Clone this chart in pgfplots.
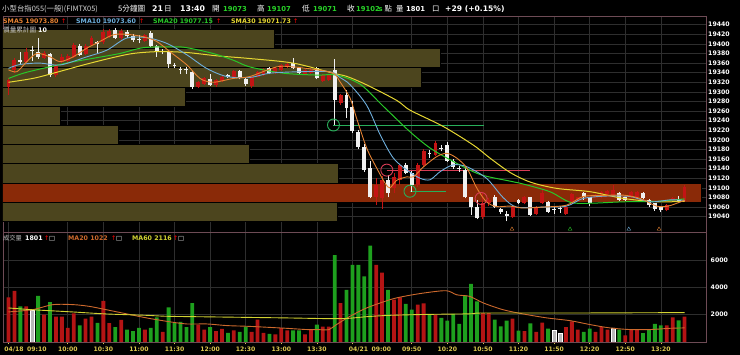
\documentclass[border=0pt]{standalone}
\usepackage{pgfplots}
\pgfplotsset{compat=1.18}
\usepackage{pgfplotstable}
\usepackage{fontspec}
\setmainfont{DejaVu Sans}
\newfontfamily\cjk{Noto Sans CJK TC}
\definecolor{olv}{RGB}{76,69,30}
\definecolor{ora}{RGB}{138,42,8}
\definecolor{cred}{RGB}{195,20,20}
\definecolor{cwht}{RGB}{240,240,240}
\definecolor{vred}{RGB}{180,20,20}
\definecolor{vgrn}{RGB}{30,160,30}
\definecolor{vgry}{RGB}{185,185,185}
\definecolor{s5}{RGB}{230,130,50}
\definecolor{s10}{RGB}{110,175,220}
\definecolor{s20}{RGB}{40,200,40}
\definecolor{s30}{RGB}{230,215,50}
\definecolor{grd}{RGB}{46,46,46}
\definecolor{frm}{RGB}{110,75,85}
\definecolor{hgrn}{RGB}{40,210,40}
\definecolor{xlab}{RGB}{220,200,80}
\definecolor{ma20}{RGB}{205,105,45}
\definecolor{ma60}{RGB}{210,210,50}
\definecolor{cgrn}{RGB}{40,175,90}
\definecolor{cpnk}{RGB}{215,60,85}

\pgfplotstableread{
i o h l c
0 19310 19328 19293 19325
1 19345 19370 19340 19366
3 19362 19392 19358 19383
6 19371 19386 19369 19381
8 19336 19358 19330 19356
9 19363 19378 19360 19373
10 19364 19378 19360 19374
11 19373 19402 19370 19398
13 19379 19400 19376 19396
14 19398 19417 19395 19413
16 19403 19430 19400 19424
17 19415 19432 19412 19427
19 19412 19431 19408 19427
23 19406 19421 19404 19418
32 19311 19323 19308 19321
33 19316 19330 19314 19328
35 19314 19327 19311 19325
36 19322 19334 19320 19332
38 19330 19345 19328 19343
41 19312 19333 19309 19330
42 19332 19344 19330 19342
43 19336 19350 19334 19348
45 19340 19352 19338 19350
46 19346 19359 19344 19357
47 19352 19360 19350 19358
50 19338 19347 19336 19345
51 19340 19348 19338 19346
53 19322 19337 19320 19335
54 19325 19338 19323 19335
56 19276 19296 19272 19293
62 19082 19120 19064 19106
63 19078 19124 19056 19116
65 19099 19130 19090 19123
66 19116 19150 19105 19147
69 19106 19152 19102 19147
70 19147 19180 19144 19176
72 19169 19197 19166 19193
80 19040 19090 19036 19068
81 19068 19078 19062 19074
85 19039 19064 19037 19062
87 19068 19084 19066 19082
89 19046 19062 19044 19060
90 19069 19096 19066 19090
94 19046 19062 19044 19060
95 19071 19090 19069 19087
96 19075 19082 19073 19080
99 19080 19088 19078 19086
100 19080 19094 19078 19092
101 19087 19096 19085 19094
102 19085 19106 19083 19096
105 19080 19094 19078 19092
106 19080 19094 19078 19092
111 19053 19066 19051 19064
112 19072 19081 19070 19079
114 19073 19107 19071 19102
}\upc

\pgfplotstableread{
i o h l c
2 19366 19384 19358 19362
4 19388 19396 19364 19386
5 19384 19412 19368 19372
7 19378 19380 19332 19335
12 19396 19400 19374 19377
15 19404 19405 19380 19399
18 19429 19433 19410 19413
20 19424 19428 19412 19417
21 19416 19420 19404 19408
22 19411 19418 19401 19409
24 19422 19426 19394 19396
25 19396 19398 19373 19384
26 19386 19390 19378 19384
27 19384 19386 19350 19358
28 19356 19360 19349 19354
29 19348 19352 19337 19346
30 19347 19351 19338 19345
31 19341 19343 19306 19310
34 19327 19337 19312 19315
37 19335 19337 19328 19330
39 19343 19346 19326 19329
40 19327 19330 19312 19317
44 19350 19352 19337 19339
48 19360 19370 19348 19350
49 19350 19352 19338 19340
52 19349 19352 19326 19328
55 19346 19368 19231 19283
57 19293 19304 19245 19267
58 19269 19280 19215 19219
59 19217 19220 19180 19186
60 19186 19192 19133 19137
61 19141 19156 19078 19080
64 19116 19127 19080 19089
67 19147 19152 19128 19132
68 19130 19136 19092 19106
71 19172 19178 19163 19170
73 19184 19190 19176 19182
74 19190 19195 19154 19156
75 19156 19160 19140 19144
76 19142 19145 19133 19139
77 19137 19144 19078 19080
78 19080 19082 19044 19061
79 19061 19075 19035 19037
82 19082 19086 19058 19060
83 19057 19058 19046 19050
84 19045 19052 19030 19042
86 19075 19077 19066 19069
88 19080 19082 19042 19044
91 19071 19073 19048 19050
92 19056 19060 19046 19054
93 19058 19062 19048 19056
97 19089 19092 19075 19080
98 19080 19082 19062 19069
103 19090 19092 19073 19075
104 19080 19082 19073 19075
107 19090 19092 19076 19078
108 19075 19077 19060 19064
109 19068 19069 19052 19055
110 19060 19062 19049 19053
113 19076 19083 19071 19073
}\dnc

\pgfplotstableread{
i v
0 3260
1 3745
3 2600
6 2000
8 1850
9 1850
10 1030
11 2100
13 1700
14 1850
16 3000
17 1380
19 1610
23 910
26 740
32 1270
33 910
35 790
36 960
38 850
41 740
42 1640
43 670
45 550
46 1010
47 850
50 550
51 910
53 1130
54 1130
56 2850
62 5640
63 5080
65 3090
66 3260
69 2730
70 2820
72 2000
80 2120
81 2120
85 1710
87 790
89 740
90 1420
94 1080
95 1510
96 910
99 740
100 1080
101 910
104 490
105 910
106 910
111 1220
112 1800
114 1850
}\vr

\pgfplotstableread{
i v
2 2600
5 3380
7 2920
12 1220
15 1400
18 1080
20 910
21 790
22 1030
24 1030
25 1800
27 2530
28 1400
29 1470
30 1080
31 2850
34 1080
37 670
39 740
40 1130
44 600
48 850
49 850
52 1270
55 6360
57 3820
58 5640
59 5640
60 4790
61 7040
64 3820
67 2780
68 2360
71 2000
73 1760
74 1560
75 2050
76 1320
77 3400
78 4250
79 2970
82 1640
83 1150
84 1560
86 840
88 1370
91 980
97 740
98 980
103 910
107 640
108 910
109 1320
110 1220
113 1590
}\vg

\pgfplotstableread{
i v
4 2290
92 840
93 640
102 1030
}\vq

\pgfplotsset{
  wick/.style={draw=none, mark=none, error bars/.cd, y dir=plus, y explicit, error mark=none,
    error bar style={line width=0.9pt, draw=#1}},
  body/.style={draw=none, mark=none, error bars/.cd, y dir=plus, y explicit, error mark=none,
    error bar style={line width=3.9pt, draw=#1}},
  band/.style={fill=#1, draw=black, line width=0.8pt},
}

\begin{document}
\begin{tikzpicture}[x=1pt,y=1pt]
\path[use as bounding box, fill=black] (0,0) rectangle (740,355);

% ---------- price panel ----------
\begin{axis}[
  at={(3pt,123pt)}, anchor=south west, width=703pt, height=216pt, scale only axis,
  xmin=-0.927, xmax=117.62, ymin=19008.1, ymax=19458.1,
  axis line style={draw=frm, line width=0.8pt},
  xtick={0,10,16,22,28,34,40,46,52,58,68,74,80,86,92,98,104,110}, xticklabels={},
  ytick={19040,19060,19080,19100,19120,19140,19160,19180,19200,19220,19240,19260,19280,19300,19320,19340,19360,19380,19400,19420,19440},
  yticklabel pos=right,
  scaled y ticks=false,
  yticklabel={\pgfmathprintnumber[fixed,precision=0,1000 sep={},assume math mode=true]{\tick}},
  grid=major, grid style={draw=grd, line width=0.6pt},
  major tick length=0pt,
  yticklabel style={font=\bfseries\fontsize{6.2}{7}\selectfont, text=white, anchor=west, inner sep=0pt, xshift=2pt},
]
% volume-at-price bands
\addplot[band=olv] coordinates {(-2,19390) (44.9,19390) (44.9,19430) (-2,19430)} -- cycle;
\addplot[band=olv] coordinates {(-2,19350) (72.9,19350) (72.9,19390) (-2,19390)} -- cycle;
\addplot[band=olv] coordinates {(-2,19310) (69.7,19310) (69.7,19350) (-2,19350)} -- cycle;
\addplot[band=olv] coordinates {(-2,19270) (29.9,19270) (29.9,19310) (-2,19310)} -- cycle;
\addplot[band=olv] coordinates {(-2,19230) (8.7,19230) (8.7,19270) (-2,19270)} -- cycle;
\addplot[band=olv] coordinates {(-2,19190) (18.6,19190) (18.6,19230) (-2,19230)} -- cycle;
\addplot[band=olv] coordinates {(-2,19150) (40.7,19150) (40.7,19190) (-2,19190)} -- cycle;
\addplot[band=olv] coordinates {(-2,19110) (55.7,19110) (55.7,19150) (-2,19150)} -- cycle;
\addplot[band=ora] coordinates {(-2,19070) (116.9,19070) (116.9,19110) (-2,19110)} -- cycle;
\addplot[band=olv] coordinates {(-2,19030) (55.4,19030) (55.4,19070) (-2,19070)} -- cycle;

% support / resistance lines
\addplot[cgrn, line width=0.9pt] coordinates {(54.8,19231) (80.2,19231)};
\addplot[cpnk, line width=0.9pt] coordinates {(63.8,19137) (87.9,19137)};
\addplot[cgrn, line width=0.9pt] coordinates {(67.7,19093) (73.8,19093)};

% candles
\addplot[wick=cred] table[x=i, y=l, y error plus expr=\thisrow{h}-\thisrow{l}] {\upc};
\addplot[body=cred] table[x=i, y=o, y error plus expr=\thisrow{c}-\thisrow{o}] {\upc};
\addplot[wick=cwht] table[x=i, y=l, y error plus expr=\thisrow{h}-\thisrow{l}] {\dnc};
\addplot[body=cwht] table[x=i, y=c, y error plus expr=\thisrow{o}-\thisrow{c}] {\dnc};

% moving averages
\addplot[s30, line width=1pt, smooth, tension=0.5] coordinates {(0,19320) (4.1,19328) (7,19337) (12.6,19356) (17.1,19370) (21,19380) (25.5,19384) (30.1,19382) (35.2,19375) (40.2,19370) (48,19360) (54.7,19339) (57.1,19332) (60.5,19314) (65.5,19282) (67.7,19262) (73.3,19228) (78.4,19189) (81.2,19162) (84.6,19132) (88,19112) (92.4,19099) (98.1,19092) (103.7,19078) (109.3,19071) (114,19072)};
\addplot[s20, line width=1pt, smooth, tension=0.5] coordinates {(0,19328) (3.1,19341) (9.8,19360) (14.3,19370) (18.8,19380) (22.7,19392) (27.8,19394) (30.1,19392) (34.5,19380) (37.9,19366) (40.7,19352) (46.3,19339) (52,19335) (55.3,19335) (59.3,19316) (63.2,19270) (67.7,19217) (71.1,19183) (75,19155) (79.5,19128) (84.6,19114) (86.8,19108) (91.3,19092) (94.7,19070) (98.1,19068) (103.7,19071) (109.3,19072) (114,19077)};
\addplot[s10, line width=0.9pt, smooth, tension=0.5] coordinates {(0,19349) (1.9,19357) (5.3,19360) (8.7,19356) (13.2,19373) (16.6,19387) (19.9,19412) (23.3,19413) (26.7,19401) (30.1,19377) (33.4,19349) (36.8,19332) (40.7,19330) (44.1,19339) (49.2,19342) (54.2,19342) (55.9,19330) (57.6,19315) (60.4,19272) (62.7,19210) (64.9,19162) (67.2,19137) (69.4,19120) (71.1,19117) (72.8,19134) (75,19148) (77.3,19144) (80.6,19120) (83.4,19080) (85.7,19060) (90.2,19060) (94.1,19062) (96.9,19078) (100.9,19083) (104.8,19082) (108.2,19071) (111.6,19075) (114,19074)};
\addplot[s5, line width=0.9pt, smooth, tension=0.5] coordinates {(0,19346) (1.4,19342) (3.1,19363) (4.8,19380) (7,19373) (8.7,19363) (10.9,19373) (13.2,19391) (15.4,19405) (17.7,19419) (19.9,19420) (22.7,19415) (25,19405) (27.2,19384) (30.1,19356) (32.3,19328) (34.5,19320) (37.9,19328) (40.7,19332) (45.2,19352) (48,19352) (52,19346) (54.8,19339) (55.9,19321) (57.6,19287) (58.7,19245) (60.4,19183) (62.1,19141) (63.5,19110) (64.3,19100) (65.5,19116) (67.2,19123) (68.3,19123) (70,19144) (72.2,19165) (73.9,19172) (75.6,19162) (77.3,19141) (79,19099) (80.6,19071) (82.3,19061) (84.6,19062) (86.8,19058) (90.1,19060) (94.1,19064) (96.9,19082) (100.2,19084) (103.6,19085) (106.5,19078) (109.3,19062) (111.2,19062) (112.7,19068) (114,19074)};

% circles
\addplot[only marks, mark=o, mark size=6pt, cgrn, line width=0.9pt] coordinates {(54.8,19231) (67.7,19093)};
\addplot[only marks, mark=o, mark size=6pt, cpnk, line width=0.9pt] coordinates {(63.8,19137) (79.7,19078)};
% small triangles
\addplot[only marks, mark=triangle, mark size=2.2pt, s5] coordinates {(84.9,19014) (109.7,19014)};
\addplot[only marks, mark=triangle, mark size=2.2pt, s20] coordinates {(94.7,19014)};
\addplot[only marks, mark=triangle, mark size=2.2pt, s10] coordinates {(104.6,19014)};
\end{axis}

% ---------- volume panel ----------
\begin{axis}[
  at={(3pt,13pt)}, anchor=south west, width=703pt, height=110pt, scale only axis,
  xmin=-0.927, xmax=117.62, ymin=0, ymax=8044,
  axis line style={draw=frm, line width=0.8pt},
  xtick={0,10,16,22,28,34,40,46,52,58,68,74,80,86,92,98,104,110},
  xticklabels={{\makebox[0pt][l]{\hspace*{-4pt}04/18\hspace{3.5pt}09:10}},10:00,10:30,11:00,11:30,12:00,12:30,13:00,13:30,{\makebox[0pt][l]{\hspace*{-3.5pt}04/21\hspace{3.5pt}09:00}},09:50,10:20,10:50,11:20,11:50,12:20,12:50,13:20},
  xtick pos=lower, ytick pos=right,
  ytick={2000,4000,6000}, yticklabel pos=right,
  scaled y ticks=false,
  yticklabel={\pgfmathprintnumber[fixed,precision=0,1000 sep={},assume math mode=true]{\tick}},
  grid=major, grid style={draw=grd, line width=0.6pt},
  xtick style={draw=xlab, line width=0.6pt}, ytick style={draw=none},
  major tick length=2.5pt, tick align=outside,
  yticklabel style={font=\bfseries\fontsize{6.2}{7}\selectfont, text=white, anchor=west, inner sep=0pt, xshift=2pt},
  xticklabel style={font=\bfseries\fontsize{6.1}{7}\selectfont, text=xlab, inner sep=0pt, yshift=-2.5pt},
]
\addplot[ybar, bar width=3.8pt, bar shift=0pt, fill=vred, draw=none] table[x=i, y=v] {\vr};
\addplot[ybar, bar width=3.8pt, bar shift=0pt, fill=vgrn, draw=none] table[x=i, y=v] {\vg};
\addplot[ybar, bar width=3.8pt, bar shift=0pt, fill=vgry, draw=white, line width=0.5pt] table[x=i, y=v] {\vq};
\addplot[ma20, line width=0.9pt, smooth, tension=0.5] coordinates {(0,2200) (4,2360) (7.5,2730) (11,2730) (13.7,2600) (16.5,2360) (20,2050) (23.3,1760) (26.7,1510) (30,1320) (33.4,1320) (36.8,1200) (40.2,1150) (43.5,1080) (46.9,1000) (50.3,910) (52.5,900) (54,900) (55.3,1270) (57.6,1880) (60.4,2490) (64.3,3090) (66.6,3330) (70,3580) (73.8,3750) (75.6,3450) (77.8,3330) (80.1,2850) (83.4,2360) (86.8,2050) (90.8,1760) (94.7,1560) (98.1,1270) (101.4,1030) (104.8,910) (108.2,910) (111.5,1000) (114,1030)};
\addplot[ma60, line width=0.9pt, smooth, tension=0.5] coordinates {(0,2490) (4,2360) (10.7,2200) (16.5,2050) (23.3,1950) (26.7,1880) (33.4,1840) (40.2,1800) (46.9,1760) (53.7,1710) (57,1720) (60.4,1850) (64.3,1950) (71,2020) (77.8,2060) (80.1,2120) (95,2120) (114,2150)};
\end{axis}

% ---------- header texts ----------
\begin{scope}[every node/.style={anchor=base west, inner sep=0pt}]
\node[text=white!85!black] at (2,343.5) {\cjk\fontsize{7.4}{8}\selectfont 小型台指055(一般)(FIMTX05)};
\node[text=white] at (118,343.5) {\cjk\fontsize{7.6}{8}\selectfont 5分鐘圖};
\node[text=white] at (152,343.5) {\bfseries\fontsize{7.8}{8}\selectfont 21};
\node[text=white] at (164,343.5) {\cjk\fontsize{7.6}{8}\selectfont 日};
\node[text=white] at (180,343.5) {\bfseries\fontsize{7.8}{8}\selectfont 13:40};
\node[text=white] at (212,343.5) {\cjk\fontsize{7.6}{8}\selectfont 開};
\node[text=hgrn] at (223,343.5) {\bfseries\fontsize{6.8}{8}\selectfont 19073};
\node[text=white] at (257,343.5) {\cjk\fontsize{7.6}{8}\selectfont 高};
\node[text=hgrn] at (267,343.5) {\bfseries\fontsize{6.8}{8}\selectfont 19107};
\node[text=white] at (302,343.5) {\cjk\fontsize{7.6}{8}\selectfont 低};
\node[text=hgrn] at (313,343.5) {\bfseries\fontsize{6.8}{8}\selectfont 19071};
\node[text=white] at (347,343.5) {\cjk\fontsize{7.6}{8}\selectfont 收};
\node[text=hgrn] at (356,343.5) {\bfseries\fontsize{6.8}{8}\selectfont 19102};
\node[text=hgrn] at (378.5,343.5) {\bfseries\fontsize{6.8}{8}\selectfont s};
\node[text=white] at (384.5,343.5) {\cjk\fontsize{7.4}{8}\selectfont 點};
\node[text=white] at (396,343.5) {\cjk\fontsize{7.4}{8}\selectfont 量};
\node[text=white] at (406,343.5) {\bfseries\fontsize{6.8}{8}\selectfont 1801};
\node[text=white] at (432,343.5) {\cjk\fontsize{7.4}{8}\selectfont 口};
\node[text=white] at (445,343.5) {\bfseries\fontsize{7.6}{8}\selectfont +29 (+0.15\%)};
% SMA legend
\node[text=s5] at (3,331.5) {\bfseries\fontsize{6.3}{7}\selectfont SMA5 19073.80};
\node[text=red] at (61,331.5) {\fontsize{6.3}{7}\selectfont ↑};
\node[text=s10] at (76,331.5) {\bfseries\fontsize{6.3}{7}\selectfont SMA10 19073.60};
\node[text=red] at (139,331.5) {\fontsize{6.3}{7}\selectfont ↑};
\node[text=s20] at (153,331.5) {\bfseries\fontsize{6.3}{7}\selectfont SMA20 19077.15};
\node[text=red] at (216,331.5) {\fontsize{6.3}{7}\selectfont ↑};
\node[text=s30] at (231,331.5) {\bfseries\fontsize{6.3}{7}\selectfont SMA30 19071.73};
\node[text=red] at (293,331.5) {\fontsize{6.3}{7}\selectfont ↑};
\node[text=white!80!black] at (3,322.5) {\cjk\fontsize{6.6}{7}\selectfont 價量累計圖};
\node[text=white] at (38,322.5) {\bfseries\fontsize{6.3}{7}\selectfont 10};
% volume legend
\node[text=white!75!black] at (3,114) {\cjk\fontsize{6.2}{7}\selectfont 成交量};
\node[text=white] at (25,114) {\bfseries\fontsize{6.3}{7}\selectfont 1801};
\node[text=red] at (44,114) {\fontsize{6.3}{7}\selectfont ↑};
\node[text=white] at (49,114) {\fontsize{6.3}{7}\selectfont □};
\node[text=ma20] at (68,114) {\bfseries\fontsize{6.3}{7}\selectfont MA20 1022};
\node[text=red] at (111,114) {\fontsize{6.3}{7}\selectfont ↑};
\node[text=white] at (116,114) {\fontsize{6.3}{7}\selectfont □};
\node[text=ma60] at (132,114) {\bfseries\fontsize{6.3}{7}\selectfont MA60 2116};
\node[text=red] at (173,114) {\fontsize{6.3}{7}\selectfont ↑};
\node[text=white] at (178,114) {\fontsize{6.3}{7}\selectfont □};
\end{scope}
\end{tikzpicture}
\end{document}
